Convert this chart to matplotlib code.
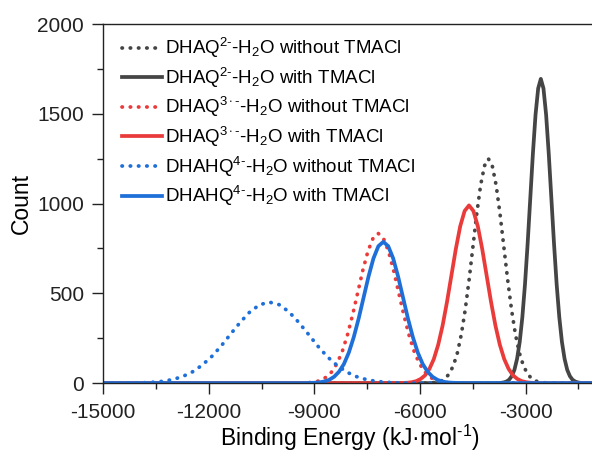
import matplotlib
matplotlib.use("Agg")
import matplotlib.pyplot as plt

plt.rcParams['font.family'] = ['Liberation Sans', 'DejaVu Sans']
plt.rcParams['mathtext.fontset'] = 'custom'
plt.rcParams['mathtext.rm'] = 'Liberation Sans'
plt.rcParams['mathtext.it'] = 'Liberation Sans:italic'
plt.rcParams['mathtext.bf'] = 'Liberation Sans:bold'
plt.rcParams['axes.unicode_minus'] = False

# binding energy distributions (kJ/mol vs. count)
dhaq2_wo_x = [-15000, -5820, -5710, -5600, -5490, -5380, -5270, -5160, -5050, -4940, -4830, -4720,
              -4610, -4500, -4390, -4280, -4170, -4060, -3950, -3840, -3730, -3620, -3510, -3400,
              -3290, -3180, -3070, -2960, -2850, -2740, -2630, -2520, -2410, -2300, -1000]
dhaq2_wo_y = [0, 0, 1, 3, 6, 14, 29, 55, 100, 169, 270, 406,
              572, 758, 944, 1103, 1211, 1250, 1211, 1103, 944, 758, 572, 406,
              270, 169, 100, 55, 29, 14, 6, 3, 1, 0, 0]

dhaq2_w_x = [-15000, -3770, -3695, -3620, -3545, -3470, -3395, -3320, -3245, -3170, -3095, -3020,
             -2945, -2870, -2795, -2720, -2645, -2570, -2495, -2420, -2345, -2270, -2195, -2120,
             -2045, -1970, -1895, -1820, -1745, -1670, -1595, -1520, -1445, -1370, -1000]
dhaq2_w_y = [0, 0, 1.5, 4, 9, 19, 39, 74, 135, 229, 367, 550,
             776, 1028, 1279, 1496, 1642, 1695, 1642, 1496, 1279, 1028, 776, 550,
             367, 229, 135, 74, 39, 19, 9, 4, 1.5, 0, 0]

dhaq3_wo_x = [-15000, -9510, -9365, -9220, -9075, -8930, -8785, -8640, -8495, -8350, -8205, -8060,
              -7915, -7770, -7625, -7480, -7335, -7190, -7045, -6900, -6755, -6610, -6465, -6320,
              -6175, -6030, -5885, -5740, -5595, -5450, -5305, -5160, -5015, -4870, -1000]
dhaq3_wo_y = [0, 0, 1, 2, 4, 9, 19, 37, 66, 113, 180, 271,
              382, 506, 630, 736, 808, 834, 808, 736, 630, 506, 382, 271,
              180, 113, 66, 37, 19, 9, 4, 2, 1, 0, 0]

dhaq3_w_x = [-15000, -6610, -6485, -6360, -6235, -6110, -5985, -5860, -5735, -5610, -5485, -5360,
             -5235, -5110, -4985, -4860, -4735, -4610, -4485, -4360, -4235, -4110, -3985, -3860,
             -3735, -3610, -3485, -3360, -3235, -3110, -2985, -2860, -2735, -2610, -1000]
dhaq3_w_y = [0, 0, 1, 2, 5, 11, 23, 43, 79, 134, 214, 321,
             453, 600, 747, 874, 959, 990, 959, 874, 747, 600, 453, 321,
             214, 134, 79, 43, 23, 11, 5, 2, 1, 0, 0]

dhahq4_wo_x = [-15000, -14405, -14130, -13855, -13580, -13305, -13030, -12755, -12480, -12205, -11930,
               -11655, -11380, -11105, -10830, -10555, -10280, -10005, -9730, -9455, -9180, -8905,
               -8630, -8355, -8080, -7805, -7530, -7255, -6980, -6705, -6430, -6155, -1000]
dhahq4_wo_y = [0, 0, 1, 2, 5, 10, 20, 36, 61, 98, 146,
               206, 274, 340, 398, 437, 451, 437, 398, 340, 274, 206,
               146, 98, 61, 36, 20, 10, 5, 2, 1, 0, 0]

dhahq4_w_x = [-15000, -9285, -9145, -9005, -8865, -8725, -8585, -8445, -8305, -8165, -8025, -7885,
              -7745, -7605, -7465, -7325, -7185, -7045, -6905, -6765, -6625, -6485, -6345, -6205,
              -6065, -5925, -5785, -5645, -5505, -5365, -5225, -5085, -4945, -4805, -1000]
dhahq4_w_y = [0, 0, 1, 2, 4, 9, 18, 35, 63, 106, 170, 256,
              360, 477, 594, 695, 763, 787, 763, 695, 594, 477, 360, 256,
              170, 106, 63, 35, 18, 9, 4, 2, 1, 0, 0]

labels = ['DHAQ$^{2\\text{-}}$-H$_2$O without TMACl',
          'DHAQ$^{2\\text{-}}$-H$_2$O with TMACl',
          'DHAQ$^{3\\cdot\\text{-}}$-H$_2$O without TMACl',
          'DHAQ$^{3\\cdot\\text{-}}$-H$_2$O with TMACl',
          'DHAHQ$^{4\\text{-}}$-H$_2$O without TMACl',
          'DHAHQ$^{4\\text{-}}$-H$_2$O with TMACl']

grey = '#454545'
red = '#ea3b3b'
blue = '#1f6fd8'
dots = (0, (0.1, 2.1))
lw = 2.7

fig = plt.figure(figsize=(5.92, 4.55), dpi=100)
ax = fig.add_axes([0.1745, 0.158, 0.8324, 0.789])

ax.plot(dhaq2_wo_x, dhaq2_wo_y, color=grey, lw=lw, linestyle=dots, dash_capstyle='round', label=labels[0])
ax.plot(dhaq2_w_x, dhaq2_w_y, color=grey, lw=lw, label=labels[1])
ax.plot(dhaq3_wo_x, dhaq3_wo_y, color=red, lw=lw, linestyle=dots, dash_capstyle='round', label=labels[2])
ax.plot(dhaq3_w_x, dhaq3_w_y, color=red, lw=lw, label=labels[3])
ax.plot(dhahq4_wo_x, dhahq4_wo_y, color=blue, lw=lw, linestyle=dots, dash_capstyle='round', label=labels[4])
ax.plot(dhahq4_w_x, dhahq4_w_y, color=blue, lw=lw, label=labels[5])

ax.set_xlim(-15000, -1000)
ax.set_ylim(0, 2000)
ax.set_xticks([-15000, -12000, -9000, -6000, -3000])
ax.set_xticks(range(-13500, -1000, 3000), minor=True)
ax.set_yticks([0, 500, 1000, 1500, 2000])
ax.set_yticks([250, 750, 1250, 1750], minor=True)
ax.tick_params(which='major', direction='out', length=8, width=1, pad=6, labelsize=15, colors='#222222')
ax.tick_params(which='minor', direction='out', length=4, width=1, colors='#222222')
for s in ax.spines.values():
    s.set_linewidth(1)
    s.set_color('#222222')

ax.set_xlabel('Binding Energy (kJ·mol$^{\\text{-}1}$)', fontsize=16.5, labelpad=1)
ax.set_ylabel('Count', fontsize=16.5, labelpad=3)

ax.legend(loc='upper left', frameon=False, fontsize=13.5, handlelength=2.1, handletextpad=0.15,
          labelspacing=0.29, borderaxespad=0.25, bbox_to_anchor=(0.014, 1.0))

fig.savefig('out.png', dpi=100)
